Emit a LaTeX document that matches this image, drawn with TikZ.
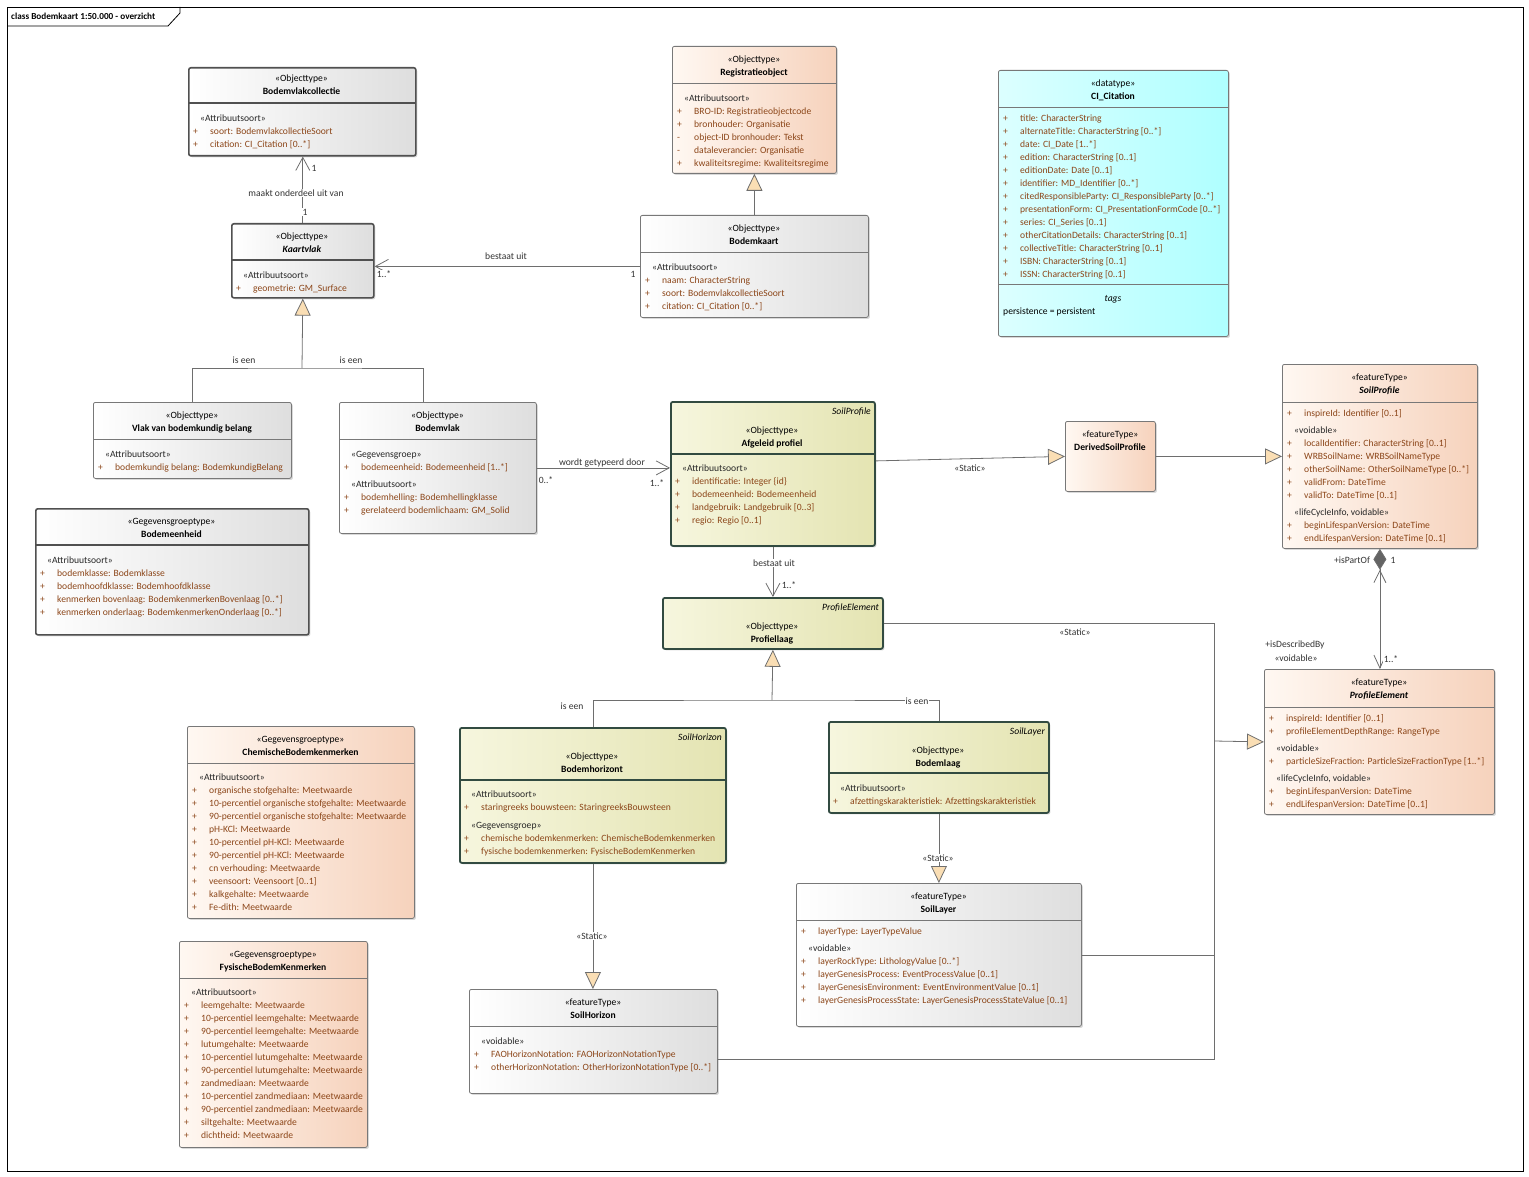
\documentclass[tikz,border=0pt]{standalone}
\usepackage{fontspec}
\setmainfont{Carlito}
\usetikzlibrary{arrows.meta,shadows}

\definecolor{attrbrown}{RGB}{140,70,25}
\definecolor{linegray}{RGB}{110,110,110}
\definecolor{boxgray}{RGB}{120,120,120}
\definecolor{boxdark}{RGB}{80,80,80}
\definecolor{grayend}{RGB}{222,222,222}
\definecolor{orangestart}{RGB}{255,248,242}
\definecolor{orangeend}{RGB}{246,210,188}
\definecolor{olivestart}{RGB}{246,246,222}
\definecolor{oliveend}{RGB}{228,228,178}
\definecolor{oliveedge}{RGB}{50,75,65}
\definecolor{cyanstart}{RGB}{220,255,255}
\definecolor{cyanend}{RGB}{175,255,255}
\definecolor{trifill}{RGB}{250,222,180}
\definecolor{diamondgray}{RGB}{100,100,100}

\newcommand{\umlfont}{\fontsize{9.6}{13}\selectfont}
\newcommand{\umlattr}[2]{\makebox[17pt][l]{#1}#2}
\newcommand{\stereo}[1]{\hspace*{7pt}{\color{black!85}«#1»}}

\begin{document}
\begin{tikzpicture}[x=1pt,y=-1pt,
  umlbox/.style={rounded corners=2pt, line width=0.8pt, inner sep=0pt, anchor=north west,
    drop shadow={shadow xshift=1.5pt,shadow yshift=-1.5pt,opacity=0.3}},
  graybox/.style={umlbox, draw=boxgray, left color=white, right color=grayend},
  darkbox/.style={graybox, draw=boxdark, line width=1.6pt},
  orangebox/.style={umlbox, draw=boxgray, left color=orangestart, right color=orangeend},
  olivebox/.style={umlbox, draw=oliveedge, line width=1.8pt, left color=olivestart, right color=oliveend},
  cyanbox/.style={umlbox, draw=boxgray, left color=cyanstart, right color=cyanend},
  hdr/.style={align=center, inner sep=0pt, anchor=north, yshift=-3pt, font=\umlfont, execute at begin node=\strut},
  attrs/.style={align=left, inner sep=0pt, anchor=north west, yshift=-3pt, font=\umlfont, text=attrbrown, execute at begin node=\strut},
  tagname/.style={inner sep=0pt, anchor=north east, yshift=-3pt, font=\umlfont\itshape},
  lbl/.style={inner sep=1pt, fill=white, font=\umlfont, text=black!80},
  conn/.style={draw=linegray, line width=0.8pt},
  assoc/.style={conn, -{Straight Barb[length=13pt,width=14pt]}},
  gen/.style={conn, -{Triangle[length=17pt,width=16pt,fill=trifill]}},
]
\useasboundingbox (0,0) rectangle (1529,1177);
% frame
\draw[line width=0.8pt] (7,7) rectangle (1523,1171);
\draw[line width=0.8pt] (7,26) -- (168,26) -- (180,13) -- (180,7);
\node[inner sep=0pt, anchor=west, font=\fontsize{9.2}{10}\selectfont\bfseries] (title) at (11,16) {class Bodemkaart 1:50.000 - overzicht};

% Bodemvlakcollectie
\node[darkbox, minimum width=227pt, minimum height=88pt] (bvc) at (188,67) {};
\draw[boxdark, line width=1.6pt] (188,103) -- (415,103);
\node[hdr] (bvc-h) at (301.5,72) {«Objecttype»\\\textbf{Bodemvlakcollectie}};
\node[attrs] (bvc-a) at (193,112) {\stereo{Attribuutsoort}\\\umlattr{+}{soort: BodemvlakcollectieSoort}\\\umlattr{+}{citation: CI\_Citation [0..*]}};

% Kaartvlak
\node[darkbox, minimum width=142pt, minimum height=74pt] (kv) at (231,223) {};
\draw[boxdark, line width=1.6pt] (231,260) -- (373,260);
\node[hdr] (kv-h) at (302,230) {«Objecttype»\\\textbf{\textit{Kaartvlak}}};
\node[attrs] (kv-a) at (236,269) {\stereo{Attribuutsoort}\\\umlattr{+}{geometrie: GM\_Surface}};

% Registratieobject
\node[orangebox, minimum width=164pt, minimum height=127pt] (ro) at (672,46) {};
\draw[boxgray, line width=0.8pt] (672,83) -- (836,83);
\node[hdr] (ro-h) at (754,53) {«Objecttype»\\\textbf{Registratieobject}};
\node[attrs] (ro-a) at (677,92) {\stereo{Attribuutsoort}\\\umlattr{+}{BRO-ID: Registratieobjectcode}\\\umlattr{+}{bronhouder: Organisatie}\\\umlattr{-}{object-ID bronhouder: Tekst}\\\umlattr{-}{dataleverancier: Organisatie}\\\umlattr{+}{kwaliteitsregime: Kwaliteitsregime}};

% Bodemkaart
\node[graybox, minimum width=228pt, minimum height=102pt] (bk) at (640,215) {};
\draw[boxgray, line width=0.8pt] (640,252) -- (868,252);
\node[hdr] (bk-h) at (754,222) {«Objecttype»\\\textbf{Bodemkaart}};
\node[attrs] (bk-a) at (645,261) {\stereo{Attribuutsoort}\\\umlattr{+}{naam: CharacterString}\\\umlattr{+}{soort: BodemvlakcollectieSoort}\\\umlattr{+}{citation: CI\_Citation [0..*]}};

% CI_Citation
\node[cyanbox, minimum width=230pt, minimum height=266pt] (cit) at (998,70) {};
\draw[boxgray, line width=0.8pt] (998,107) -- (1228,107);
\draw[boxgray, line width=0.8pt] (998,284) -- (1228,284);
\node[hdr] (cit-h) at (1113,77) {«datatype»\\\textbf{CI\_Citation}};
\node[attrs] (cit-a) at (1003,112) {\umlattr{+}{title: CharacterString}\\\umlattr{+}{alternateTitle: CharacterString [0..*]}\\\umlattr{+}{date: CI\_Date [1..*]}\\\umlattr{+}{edition: CharacterString [0..1]}\\\umlattr{+}{editionDate: Date [0..1]}\\\umlattr{+}{identifier: MD\_Identifier [0..*]}\\\umlattr{+}{citedResponsibleParty: CI\_ResponsibleParty [0..*]}\\\umlattr{+}{presentationForm: CI\_PresentationFormCode [0..*]}\\\umlattr{+}{series: CI\_Series [0..1]}\\\umlattr{+}{otherCitationDetails: CharacterString [0..1]}\\\umlattr{+}{collectiveTitle: CharacterString [0..1]}\\\umlattr{+}{ISBN: CharacterString [0..1]}\\\umlattr{+}{ISSN: CharacterString [0..1]}};
\node[hdr, font=\umlfont\itshape] (cit-t) at (1113,289) {tags};
\node[attrs, text=black] (cit-p) at (1003,302) {persistence = persistent};

% Vlak van bodemkundig belang
\node[graybox, minimum width=198pt, minimum height=76pt] (vlak) at (93,402) {};
\draw[boxgray, line width=0.8pt] (93,439) -- (291,439);
\node[hdr] (vlak-h) at (192,409) {«Objecttype»\\\textbf{Vlak van bodemkundig belang}};
\node[attrs] (vlak-a) at (98,448) {\stereo{Attribuutsoort}\\\umlattr{+}{bodemkundig belang: BodemkundigBelang}};

% Bodemvlak
\node[graybox, minimum width=197pt, minimum height=131pt] (bv) at (339,402) {};
\draw[boxgray, line width=0.8pt] (339,439) -- (536,439);
\node[hdr] (bv-h) at (437.5,409) {«Objecttype»\\\textbf{Bodemvlak}};
\node[attrs] (bv-a) at (344,448) {\stereo{Gegevensgroep}\\\umlattr{+}{bodemeenheid: Bodemeenheid [1..*]}\\[4pt]\stereo{Attribuutsoort}\\\umlattr{+}{bodemhelling: Bodemhellingklasse}\\\umlattr{+}{gerelateerd bodemlichaam: GM\_Solid}};

% Bodemeenheid
\node[darkbox, minimum width=273pt, minimum height=126pt] (be) at (35,508) {};
\draw[boxdark, line width=1.6pt] (35,545) -- (308,545);
\node[hdr] (be-h) at (171.5,515) {«Gegevensgroeptype»\\\textbf{Bodemeenheid}};
\node[attrs] (be-a) at (40,554) {\stereo{Attribuutsoort}\\\umlattr{+}{bodemklasse: Bodemklasse}\\\umlattr{+}{bodemhoofdklasse: Bodemhoofdklasse}\\\umlattr{+}{kenmerken bovenlaag: BodemkenmerkenBovenlaag [0..*]}\\\umlattr{+}{kenmerken onderlaag: BodemkenmerkenOnderlaag [0..*]}};

% Afgeleid profiel
\node[olivebox, minimum width=204pt, minimum height=144pt] (ap) at (670,401) {};
\draw[oliveedge, line width=1.8pt] (670,454) -- (874,454);
\node[tagname] (ap-t) at (871,405) {SoilProfile};
\node[hdr] (ap-h) at (772,424) {«Objecttype»\\\textbf{Afgeleid profiel}};
\node[attrs] (ap-a) at (675,462) {\stereo{Attribuutsoort}\\\umlattr{+}{identificatie: Integer \{id\}}\\\umlattr{+}{bodemeenheid: Bodemeenheid}\\\umlattr{+}{landgebruik: Landgebruik [0..3]}\\\umlattr{+}{regio: Regio [0..1]}};

% DerivedSoilProfile
\node[orangebox, minimum width=90pt, minimum height=70pt] (dsp) at (1065,421) {};
\node[hdr] (dsp-h) at (1110,428) {«featureType»\\\textbf{DerivedSoilProfile}};

% SoilProfile
\node[orangebox, minimum width=195pt, minimum height=184pt] (sp) at (1282,364) {};
\draw[boxgray, line width=0.8pt] (1282,402) -- (1477,402);
\node[hdr] (sp-h) at (1379.5,371) {«featureType»\\\textbf{\textit{SoilProfile}}};
\node[attrs] (sp-a) at (1287,406) {\umlattr{+}{inspireId: Identifier [0..1]}\\[4pt]\stereo{voidable}\\\umlattr{+}{localIdentifier: CharacterString [0..1]}\\\umlattr{+}{WRBSoilName: WRBSoilNameType}\\\umlattr{+}{otherSoilName: OtherSoilNameType [0..*]}\\\umlattr{+}{validFrom: DateTime}\\\umlattr{+}{validTo: DateTime [0..1]}\\[4pt]\stereo{lifeCycleInfo, voidable}\\\umlattr{+}{beginLifespanVersion: DateTime}\\\umlattr{+}{endLifespanVersion: DateTime [0..1]}};

% Profiellaag
\node[olivebox, minimum width=220pt, minimum height=51pt] (pl) at (662,597) {};
\node[tagname] (pl-t) at (879,601) {ProfileElement};
\node[hdr] (pl-h) at (772,620) {«Objecttype»\\\textbf{Profiellaag}};

% ProfileElement
\node[orangebox, minimum width=230pt, minimum height=145pt] (pe) at (1264,669) {};
\draw[boxgray, line width=0.8pt] (1264,707) -- (1494,707);
\node[hdr] (pe-h) at (1379,676) {«featureType»\\\textbf{\textit{ProfileElement}}};
\node[attrs] (pe-a) at (1269,711) {\umlattr{+}{inspireId: Identifier [0..1]}\\\umlattr{+}{profileElementDepthRange: RangeType}\\[4pt]\stereo{voidable}\\\umlattr{+}{particleSizeFraction: ParticleSizeFractionType [1..*]}\\[4pt]\stereo{lifeCycleInfo, voidable}\\\umlattr{+}{beginLifespanVersion: DateTime}\\\umlattr{+}{endLifespanVersion: DateTime [0..1]}};

% ChemischeBodemkenmerken
\node[orangebox, minimum width=227pt, minimum height=192pt] (chem) at (187,726) {};
\draw[boxgray, line width=0.8pt] (187,763) -- (414,763);
\node[hdr] (chem-h) at (300.5,733) {«Gegevensgroeptype»\\\textbf{ChemischeBodemkenmerken}};
\node[attrs] (chem-a) at (192,771) {\stereo{Attribuutsoort}\\\umlattr{+}{organische stofgehalte: Meetwaarde}\\\umlattr{+}{10-percentiel organische stofgehalte: Meetwaarde}\\\umlattr{+}{90-percentiel organische stofgehalte: Meetwaarde}\\\umlattr{+}{pH-KCl: Meetwaarde}\\\umlattr{+}{10-percentiel pH-KCl: Meetwaarde}\\\umlattr{+}{90-percentiel pH-KCl: Meetwaarde}\\\umlattr{+}{cn verhouding: Meetwaarde}\\\umlattr{+}{veensoort: Veensoort [0..1]}\\\umlattr{+}{kalkgehalte: Meetwaarde}\\\umlattr{+}{Fe-dith: Meetwaarde}};

% FysischeBodemKenmerken
\node[orangebox, minimum width=188pt, minimum height=206pt] (fys) at (179,941) {};
\draw[boxgray, line width=0.8pt] (179,978) -- (367,978);
\node[hdr] (fys-h) at (273,948) {«Gegevensgroeptype»\\\textbf{FysischeBodemKenmerken}};
\node[attrs] (fys-a) at (184,986) {\stereo{Attribuutsoort}\\\umlattr{+}{leemgehalte: Meetwaarde}\\\umlattr{+}{10-percentiel leemgehalte: Meetwaarde}\\\umlattr{+}{90-percentiel leemgehalte: Meetwaarde}\\\umlattr{+}{lutumgehalte: Meetwaarde}\\\umlattr{+}{10-percentiel lutumgehalte: Meetwaarde}\\\umlattr{+}{90-percentiel lutumgehalte: Meetwaarde}\\\umlattr{+}{zandmediaan: Meetwaarde}\\\umlattr{+}{10-percentiel zandmediaan: Meetwaarde}\\\umlattr{+}{90-percentiel zandmediaan: Meetwaarde}\\\umlattr{+}{siltgehalte: Meetwaarde}\\\umlattr{+}{dichtheid: Meetwaarde}};

% Bodemhorizont
\node[olivebox, minimum width=266pt, minimum height=135pt] (bh) at (459,727) {};
\draw[oliveedge, line width=1.8pt] (459,780) -- (725,780);
\node[tagname] (bh-t) at (722,731) {SoilHorizon};
\node[hdr] (bh-h) at (592,750) {«Objecttype»\\\textbf{Bodemhorizont}};
\node[attrs] (bh-a) at (464,788) {\stereo{Attribuutsoort}\\\umlattr{+}{staringreeks bouwsteen: StaringreeksBouwsteen}\\[5pt]\stereo{Gegevensgroep}\\\umlattr{+}{chemische bodemkenmerken: ChemischeBodemkenmerken}\\\umlattr{+}{fysische bodemkenmerken: FysischeBodemKenmerken}};

% Bodemlaag
\node[olivebox, minimum width=220pt, minimum height=91pt] (bl) at (828,721) {};
\draw[oliveedge, line width=1.8pt] (828,773) -- (1048,773);
\node[tagname] (bl-t) at (1045,725) {SoilLayer};
\node[hdr] (bl-h) at (938,744) {«Objecttype»\\\textbf{Bodemlaag}};
\node[attrs] (bl-a) at (833,782) {\stereo{Attribuutsoort}\\\umlattr{+}{afzettingskarakteristiek: Afzettingskarakteristiek}};

% SoilLayer
\node[graybox, minimum width=285pt, minimum height=143pt] (slay) at (796,883) {};
\draw[boxgray, line width=0.8pt] (796,920) -- (1081,920);
\node[hdr] (slay-h) at (938.5,890) {«featureType»\\\textbf{SoilLayer}};
\node[attrs] (slay-a) at (801,925) {\umlattr{+}{layerType: LayerTypeValue}\\[4pt]\stereo{voidable}\\\umlattr{+}{layerRockType: LithologyValue [0..*]}\\\umlattr{+}{layerGenesisProcess: EventProcessValue [0..1]}\\\umlattr{+}{layerGenesisEnvironment: EventEnvironmentValue [0..1]}\\\umlattr{+}{layerGenesisProcessState: LayerGenesisProcessStateValue [0..1]}};

% SoilHorizon
\node[graybox, minimum width=248pt, minimum height=104pt] (shor) at (469,989) {};
\draw[boxgray, line width=0.8pt] (469,1026) -- (717,1026);
\node[hdr] (shor-h) at (593,996) {«featureType»\\\textbf{SoilHorizon}};
\node[attrs] (shor-a) at (474,1035) {\stereo{voidable}\\\umlattr{+}{FAOHorizonNotation: FAOHorizonNotationType}\\\umlattr{+}{otherHorizonNotation: OtherHorizonNotationType [0..*]}};

% connectors
\draw[assoc] (kv.north) -- (kv.north |- bvc.south);
\node[lbl] (l-maakt) at (296,193) {maakt onderdeel uit van};
\node[lbl] (m-bvc) at (314,168) {1};
\node[lbl] (m-kv) at (305,212) {1};

\draw[assoc] (bk.west) -- (bk.west -| kv.east);
\node[lbl] (l-bestaat1) at (506,256) {bestaat uit};
\node[lbl] (m-kv2) at (384,274) {1..*};
\node[lbl] (m-bk) at (633,274) {1};

\draw[gen] (bk.north) -- (ro.south);

\coordinate (kvjoin) at (302,368);
\draw[conn] (vlak.north) |- (kvjoin) -| ([xshift=-14.5pt]bv.north);
\draw[gen] (kvjoin) -- (kv.south);
\node[lbl] (l-iseen1) at (244,360) {is een};
\node[lbl] (l-iseen2) at (351,360) {is een};

\draw[assoc] (bv.east) -- (bv.east -| ap.west);
\node[lbl] (l-wordt) at (602,463) {wordt getypeerd door};
\node[lbl] (m-bv) at (546,480) {0..*};
\node[lbl] (m-ap) at (657,483) {1..*};

\draw[gen] ([yshift=13pt]ap.east) -- (dsp.west);
\node[lbl] (l-static1) at (970,468) {«Static»};
\draw[gen] (dsp.east) -- (dsp.east -| sp.west);

\draw[assoc] (ap.south) -- (pl.north);
\node[lbl] (l-bestaat2) at (774,563) {bestaat uit};
\node[lbl] (m-pl) at (789,585) {1..*};

\coordinate (pljoin) at (772,700);
\draw[conn] (bh.north) |- (pljoin) -| (bl.north);
\draw[gen] (pljoin) -- (pl.south);
\node[lbl] (l-iseen3) at (572,706) {is een};
\node[lbl] (l-iseen4) at (917,701) {is een};

\draw[gen] (bl.south) -- (bl.south |- slay.north);
\node[lbl] (l-static2) at (938,858) {«Static»};
\draw[gen] (bh.south) -- (bh.south |- shor.north);
\node[lbl] (l-static3) at (592,936) {«Static»};

\coordinate (pebus) at (1214,741);
\draw[conn] (pl.east) -| (pebus);
\draw[conn] (slay.east) -| (pebus);
\draw[conn] ([yshift=-18pt]shor.east) -| (pebus);
\draw[gen] (pebus) -- (pe.west);
\node[lbl] (l-static4) at (1075,632) {«Static»};

\draw[conn, {Diamond[length=21pt,width=13pt,fill=diamondgray] Straight Barb[length=12pt,width=12pt]}-{Straight Barb[length=13pt,width=12pt]}] (sp.south) -- (sp.south |- pe.north);
\node[lbl] (r-partof) at (1352,560) {+isPartOf};
\node[lbl] (m-sp) at (1393,560) {1};
\node[lbl] (r-described) at (1295,645) {+isDescribedBy};
\node[lbl] (r-voidable) at (1296,658) {«voidable»};
\node[lbl] (m-pe) at (1391,659) {1..*};
\end{tikzpicture}
\end{document}
